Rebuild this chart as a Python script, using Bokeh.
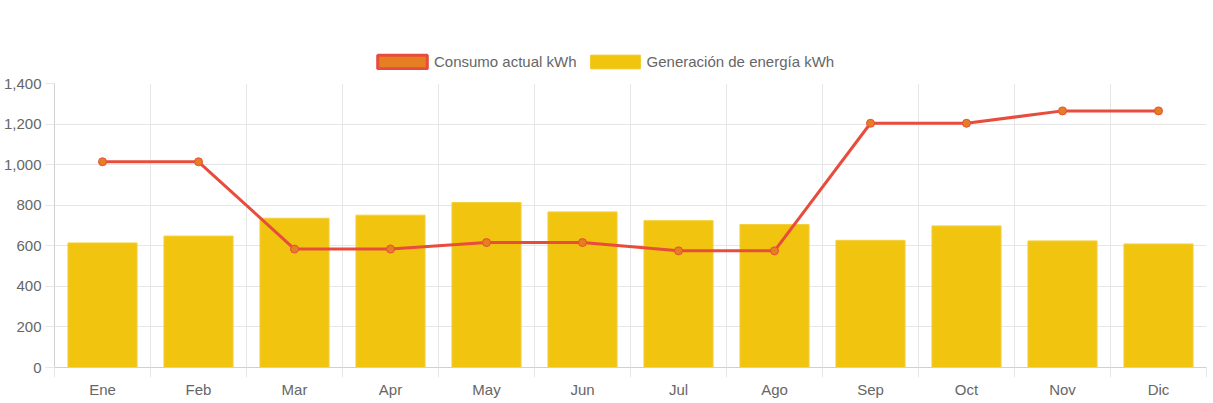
import numpy as np
from bokeh.plotting import figure
from bokeh.layouts import column
from bokeh.models import (FixedTicker, NumeralTickFormatter, Legend, LegendItem, Range1d)
from bokeh.embed import file_html
from bokeh.resources import INLINE

months = ["Ene", "Feb", "Mar", "Apr", "May", "Jun", "Jul", "Ago", "Sep", "Oct", "Nov", "Dic"]
consumo = [1014, 1014, 584, 584, 616, 616, 575, 575, 1204, 1204, 1265, 1265]
generacion = [614, 648, 736, 751, 813, 767, 724, 705, 627, 698, 624, 609]
y_ticks = [0, 200, 400, 600, 800, 1000, 1200, 1400]

FONT = "Liberation Sans"
FS = "15px"
TXT = "#666666"

n = len(months)
xc = np.arange(n) + 0.5
bounds = list(range(n + 1))

# ---- legend strip ----
lg = figure(width=1213, height=70, output_backend="svg", toolbar_location=None,
            x_range=Range1d(0, n), y_range=Range1d(0, 1400),
            min_border_left=0, min_border_right=0, min_border_top=0, min_border_bottom=0)
lg.outline_line_color = None
lg.axis.visible = False
lg.grid.visible = False
lg_c = lg.vbar(x=xc, top=consumo, width=0.72, fill_color="#e67e22",
               line_color="#e74c3c", line_width=3, visible=False)
lg_g = lg.vbar(x=xc, top=generacion, width=0.72, fill_color="#f1c40f",
               line_color="#f1c40f", line_width=1, visible=False)
legend = Legend(items=[LegendItem(label="Consumo actual kWh", renderers=[lg_c]),
                       LegendItem(label="Generación de energía kWh", renderers=[lg_g])],
                orientation="horizontal", location=(317, 0),
                padding=0, margin=0, spacing=7, label_standoff=1,
                glyph_width=62, glyph_height=17,
                label_text_font=FONT, label_text_font_size=FS, label_text_color=TXT,
                border_line_alpha=0, background_fill_alpha=0,
                inactive_fill_alpha=0)
lg.add_layout(legend, "center")

# ---- main chart ----
p = figure(width=1213, height=330, output_backend="svg", toolbar_location=None,
           x_range=Range1d(0, n), y_range=Range1d(0, 1400),
           min_border_left=54, min_border_right=7, min_border_top=13, min_border_bottom=33)
p.outline_line_color = None
p.background_fill_color = "white"
p.border_fill_color = "white"

bars = p.vbar(x=xc, top=generacion, width=0.72, fill_color="#f1c40f",
              line_color="#f4d03f", line_width=1)
line = p.line(xc, consumo, line_color="#e74c3c", line_width=3)
pts = p.scatter(xc, consumo, size=8, fill_color="#e67e22", line_color="#e74c3c", line_width=1)

# x axis
p.xaxis.ticker = FixedTicker(ticks=list(xc), minor_ticks=bounds)
p.xaxis.major_label_overrides = {float(x): m for x, m in zip(xc, months)}
p.xaxis.major_tick_out = 0
p.xaxis.major_tick_in = 0
p.xaxis.minor_tick_out = 10
p.xaxis.minor_tick_in = 0
p.xaxis.minor_tick_line_color = "#e6e6e6"
p.xaxis.major_label_standoff = 3
p.xaxis.axis_line_color = "#d0d0d0"
p.xaxis.major_label_text_font = FONT
p.xaxis.major_label_text_font_size = FS
p.xaxis.major_label_text_color = TXT
p.xgrid.ticker = FixedTicker(ticks=bounds)
p.xgrid.grid_line_color = "#e6e6e6"

# y axis
p.yaxis.ticker = FixedTicker(ticks=y_ticks)
p.yaxis.formatter = NumeralTickFormatter(format="0,0")
p.yaxis.major_tick_out = 9
p.yaxis.major_tick_in = 0
p.yaxis.minor_tick_line_color = None
p.yaxis.major_tick_line_color = "#e6e6e6"
p.yaxis.major_label_standoff = 4
p.yaxis.axis_line_color = "#d0d0d0"
p.yaxis.major_label_text_font = FONT
p.yaxis.major_label_text_font_size = FS
p.yaxis.major_label_text_color = TXT
p.ygrid.grid_line_color = "#e6e6e6"

layout = column(lg, p, spacing=0)
open("out.html", "w").write(file_html(layout, INLINE))
